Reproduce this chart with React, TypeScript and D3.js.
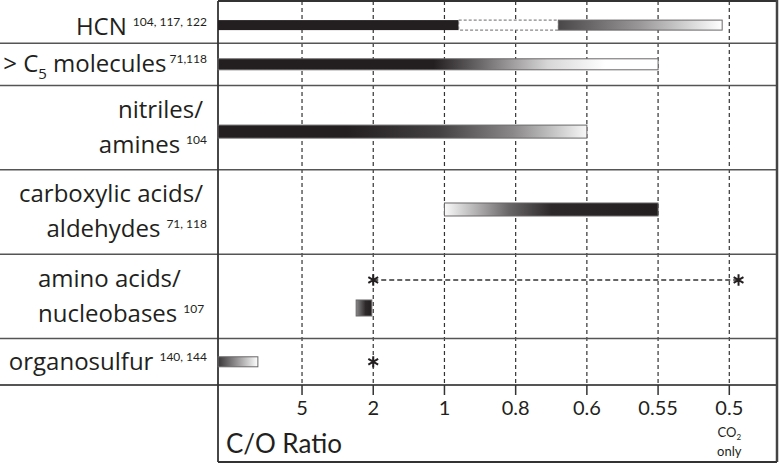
import React from "react";
import * as d3 from "d3";

// ---------- data ----------
const categories = [
  "HCN",
  "> C5 molecules",
  "nitriles/amines",
  "carboxylic acids/aldehydes",
  "amino acids/nucleobases",
  "organosulfur",
];
const labelLines: string[][] = [
  ["HCN"],
  ["> C|5| molecules"],
  ["nitriles/", "amines"],
  ["carboxylic acids/", "aldehydes"],
  ["amino acids/", "nucleobases"],
  ["organosulfur"],
];
const references = ["104, 117, 122", "71,118", "104", "71, 118", "107", "140, 144"];
const rowLines = [1, 1, 2, 2, 2, 1];

const tickLabels = ["5", "2", "1", "0.8", "0.6", "0.55", "0.5"];
// position expressed in tick-index units (0 = "5", 6 = "0.5"); AXIS_MIN = the left edge (C/O > 5)
const AXIS_MIN = -1.18;
const AXIS_MAX = 6.67;

// bars: category index, lane, from, to, style
const bars = [
  { cat: 0, lane: 0, from: AXIS_MIN, to: 2.2, style: "solid" },
  { cat: 0, lane: 0, from: 2.2, to: 3.6, style: "dashed" },
  { cat: 0, lane: 0, from: 3.6, to: 5.9, style: "grayToWhite" },
  { cat: 1, lane: 0, from: AXIS_MIN, to: 5, style: "c5" },
  { cat: 2, lane: 0, from: AXIS_MIN, to: 4, style: "nitriles" },
  { cat: 3, lane: 0, from: 2, to: 5, style: "carboxylic" },
  { cat: 4, lane: 1, from: 0.76, to: 0.98, style: "amino" },
  { cat: 5, lane: 0, from: AXIS_MIN, to: -0.62, style: "sulfur" },
];
// asterisk markers
const stars = [
  { cat: 4, lane: 0, at: 1 },
  { cat: 4, lane: 0, at: 6.13 },
  { cat: 5, lane: 0, at: 1 },
];
// dashed range connector
const ranges = [{ cat: 4, lane: 0, from: 1, to: 6.13 }];

// ---------- layout ----------
const W = 779;
const H = 464;
const LEFT = 218;
const RIGHT = 777;
const TOP = 1;
const GRID_BOTTOM = 385;
const FRAME_BOTTOM = 462;
const INK = "#231f20";
const FONT = "Lato, 'Open Sans', sans-serif";
const LABEL_FONT = "'Open Sans', sans-serif";

export default function App() {
  const x = d3.scaleLinear().domain([AXIS_MIN, AXIS_MAX]).range([LEFT, RIGHT]);
  const totalLines = d3.sum(rowLines);
  const y = d3.scaleLinear().domain([0, totalLines + 0.1]).range([TOP, GRID_BOTTOM]);
  const cum = d3.cumsum(rowLines);
  const rowTop = rowLines.map((_, i) => y(i === 0 ? 0 : cum[i - 1]));
  const rowBottom = rowLines.map((_, i) => (i === rowLines.length - 1 ? GRID_BOTTOM : y(cum[i])));
  const rowCenter = rowTop.map((t, i) => (t + rowBottom[i]) / 2);

  const laneOffset = (cat: number, lane: number) => {
    const table: number[][] = [[3], [0], [4], [-2.5], [-16.4, 11.6], [0]];
    return table[cat][lane] ?? 0;
  };
  const barHeight = (cat: number) => [10, 11, 13, 13, 16, 10][cat];
  const leftAligned = (cat: number) => cat === 4;

  const fills: Record<string, string> = {
    solid: INK,
    dashed: "#ffffff",
    grayToWhite: "url(#gGrayWhite)",
    c5: "url(#gC5)",
    nitriles: "url(#gNit)",
    carboxylic: "url(#gCarb)",
    amino: "url(#gAmino)",
    sulfur: "url(#gSulf)",
  };

  const star = d3.symbol().type(d3.symbolAsterisk).size(90)();

  const renderLabelLine = (
    line: string,
    isLast: boolean,
    ref: string,
    yb: number,
    key: string,
    startAlign: boolean
  ) => {
    const parts = line.split("|");
    const children: React.ReactNode[] = [];
    if (parts.length === 3) {
      children.push(<tspan key="a">{parts[0]}</tspan>);
      children.push(
        <tspan key="b" fontSize={15} dy={7}>
          {parts[1]}
        </tspan>
      );
      children.push(
        <tspan key="c" dy={-7}>
          {parts[2]}
        </tspan>
      );
    } else {
      children.push(<tspan key="a">{line}</tspan>);
    }
    if (isLast) {
      children.push(
        <tspan key="r" fontSize={12} fontFamily={FONT} dy={-9} dx={parts.length === 3 ? 3 : 6}>
          {ref}
        </tspan>
      );
    }
    return (
      <text
        key={key}
        x={startAlign ? 38 : isLast ? 207 : 203}
        y={yb}
        textAnchor={startAlign ? "start" : "end"}
        fontSize={24}
        fill={INK}
        fontFamily={LABEL_FONT}
      >
        {children}
      </text>
    );
  };

  return (
    <svg width={W} height={H} style={{ position: "absolute", left: 0, top: 0, background: "#fff" }}>
      <defs>
        <linearGradient id="gGrayWhite" x1="0" x2="1" y1="0" y2="0">
          <stop offset="0" stopColor="#4a4748" />
          <stop offset="0.5" stopColor="#9a9899" />
          <stop offset="1" stopColor="#ffffff" />
        </linearGradient>
        <linearGradient id="gC5" x1="0" x2="1" y1="0" y2="0">
          <stop offset="0" stopColor={INK} />
          <stop offset="0.49" stopColor={INK} />
          <stop offset="0.6" stopColor="#6e6b6c" />
          <stop offset="0.75" stopColor="#d8d7d7" />
          <stop offset="0.88" stopColor="#ffffff" />
          <stop offset="1" stopColor="#ffffff" />
        </linearGradient>
        <linearGradient id="gNit" x1="0" x2="1" y1="0" y2="0">
          <stop offset="0" stopColor={INK} />
          <stop offset="0.35" stopColor={INK} />
          <stop offset="0.6" stopColor="#444142" />
          <stop offset="0.8" stopColor="#8a8889" />
          <stop offset="1" stopColor="#f7f7f7" />
        </linearGradient>
        <linearGradient id="gCarb" x1="0" x2="1" y1="0" y2="0">
          <stop offset="0" stopColor="#fafafa" />
          <stop offset="0.3" stopColor="#6a6768" />
          <stop offset="0.5" stopColor="#2d292a" />
          <stop offset="1" stopColor={INK} />
        </linearGradient>
        <linearGradient id="gAmino" x1="0" x2="1" y1="0" y2="0">
          <stop offset="0" stopColor="#8a8889" />
          <stop offset="0.6" stopColor="#2d292a" />
          <stop offset="1" stopColor={INK} />
        </linearGradient>
        <linearGradient id="gSulf" x1="0" x2="1" y1="0" y2="0">
          <stop offset="0" stopColor="#3a3738" />
          <stop offset="0.5" stopColor="#9a9899" />
          <stop offset="1" stopColor="#ffffff" />
        </linearGradient>
      </defs>

      {/* dashed verticals */}
      {tickLabels.map((t, i) => (
        <line
          key={"v" + t}
          x1={x(i)}
          x2={x(i)}
          y1={TOP}
          y2={GRID_BOTTOM}
          stroke="#333"
          strokeWidth={1.2}
          strokeDasharray="4,3"
        />
      ))}

      {/* row separators */}
      {rowBottom.map((b, i) => (
        <line key={"s" + i} x1={0} x2={RIGHT} y1={b} y2={b} stroke="#555" strokeWidth={i === rowBottom.length - 1 ? 2 : 1.5} />
      ))}

      {/* frame */}
      <line x1={LEFT} x2={RIGHT} y1={TOP} y2={TOP} stroke="#333" strokeWidth={2} />
      <line x1={LEFT} x2={LEFT} y1={TOP} y2={FRAME_BOTTOM} stroke="#333" strokeWidth={1.8} />
      <line x1={RIGHT} x2={RIGHT} y1={0} y2={FRAME_BOTTOM} stroke="#444" strokeWidth={2.5} />
      <line x1={LEFT} x2={RIGHT} y1={FRAME_BOTTOM} y2={FRAME_BOTTOM} stroke="#333" strokeWidth={2} />

      {/* ranges */}
      {ranges.map((r, i) => {
        const cy = rowCenter[r.cat] + laneOffset(r.cat, r.lane);
        return (
          <line key={"r" + i} x1={x(r.from)} x2={x(r.to)} y1={cy} y2={cy} stroke="#333" strokeWidth={1.3} strokeDasharray="5,3" />
        );
      })}

      {/* bars */}
      {bars.map((b, i) => {
        const h = barHeight(b.cat);
        const cy = rowCenter[b.cat] + laneOffset(b.cat, b.lane);
        const x0 = x(b.from);
        const x1 = x(b.to);
        const outlined = b.style !== "solid";
        return (
          <rect
            key={"b" + i}
            x={x0}
            y={cy - h / 2}
            width={x1 - x0}
            height={h}
            fill={fills[b.style]}
            stroke={outlined ? "#6a6768" : "none"}
            strokeWidth={outlined ? 1 : 0}
            strokeDasharray={b.style === "dashed" ? "3,2" : undefined}
          />
        );
      })}

      {/* stars */}
      {stars.map((s, i) => {
        const cy = rowCenter[s.cat] + laneOffset(s.cat, s.lane);
        return (
          <path key={"st" + i} d={star || ""} transform={`translate(${x(s.at)},${cy})`} stroke={INK} strokeWidth={2} fill="none" />
        );
      })}

      {/* labels */}
      {labelLines.map((lines, ci) => {
        const n = lines.length;
        const nudge = ci === 0 ? 5 : 0;
        return lines.map((ln, li) =>
          renderLabelLine(
            ln,
            li === n - 1,
            references[ci],
            rowCenter[ci] + (li - (n - 1) / 2) * 35 + 8 + nudge,
            `l${ci}-${li}`,
            leftAligned(ci)
          )
        );
      })}

      {/* x ticks */}
      {tickLabels.map((t, i) => (
        <g key={"t" + t} transform={`translate(${x(i)},0)`}>
          <line y1={GRID_BOTTOM} y2={GRID_BOTTOM + 10} stroke="#333" strokeWidth={1.5} />
          <text y={415} textAnchor="middle" fontSize={20} fill={INK} fontFamily={FONT}>
            {t}
          </text>
        </g>
      ))}
      <text x={x(6)} y={437} textAnchor="middle" fontSize={13} fill={INK} fontFamily={FONT}>
        CO
        <tspan fontSize={8} dy={3}>
          2
        </tspan>
      </text>
      <text x={x(6)} y={456} textAnchor="middle" fontSize={13} fill={INK} fontFamily={FONT}>
        only
      </text>

      <text x={226} y={453} fontSize={26} fill={INK} fontFamily={FONT}>
        C/O Ratio
      </text>
    </svg>
  );
}
